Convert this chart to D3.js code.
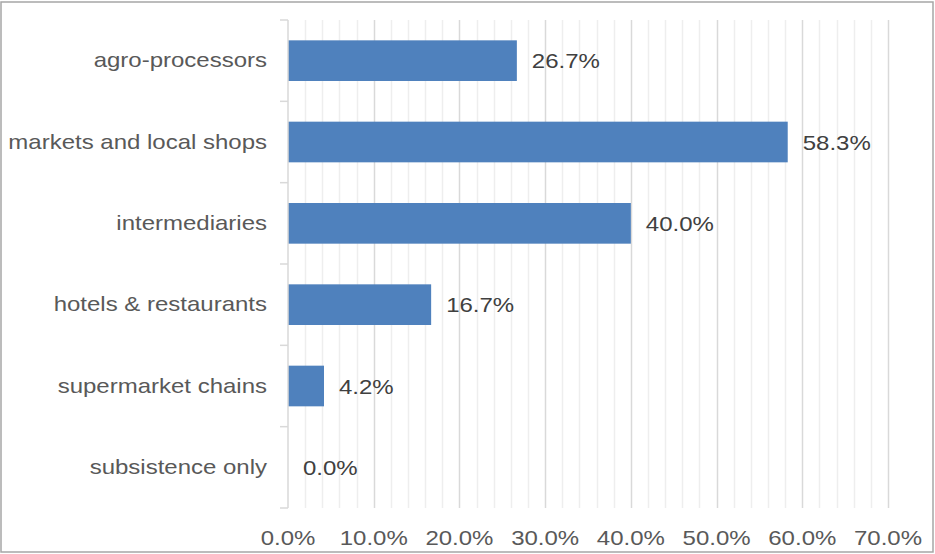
<!DOCTYPE html>
<html>
<head>
<meta charset="utf-8">
<script src="https://cdn.jsdelivr.net/npm/d3@7"></script>
<style>
  html, body { margin: 0; padding: 0; background: #fff; }
  svg { display: block; }
  text { font-family: "Liberation Sans", Arial, sans-serif; }
</style>
</head>
<body>
<svg id="chart" width="935" height="554"></svg>
<script>
// Sales channels and share of respondents using each
const categories = [
  "agro-processors",
  "markets and local shops",
  "intermediaries",
  "hotels & restaurants",
  "supermarket chains",
  "subsistence only"
];
const shares = [26.7, 58.3, 40.0, 16.7, 4.2, 0.0];
const xTicks = [0, 10, 20, 30, 40, 50, 60, 70];
const xMinorTicks = d3.range(0, 70.001, 2);

const W = 935, H = 554;
const margin = { left: 288, right: 47, top: 20, bottom: 46 };
const STRETCH = 1.2; // horizontal text stretch

const svg = d3.select("#chart");

// outer frame
svg.append("rect")
  .attr("x", 1).attr("y", 2)
  .attr("width", 932).attr("height", 550)
  .attr("fill", "#fff")
  .attr("stroke", "#a6a6a6")
  .attr("stroke-width", 1.5);

const x = d3.scaleLinear().domain([0, 70]).range([margin.left, W - margin.right]);
const y = d3.scaleBand().domain(categories)
  .range([margin.top, H - margin.bottom])
  .paddingInner(0.5).paddingOuter(0.25);
const yBounds = d3.scaleBand().domain(categories).range([margin.top, H - margin.bottom]);

// minor gridlines
svg.append("g").selectAll("line")
  .data(xMinorTicks.filter(d => d % 10 !== 0))
  .join("line")
  .attr("x1", d => Math.round(x(d)) + 0.5).attr("x2", d => Math.round(x(d)) + 0.5)
  .attr("y1", margin.top).attr("y2", H - margin.bottom)
  .attr("stroke", "#eeeeee").attr("stroke-width", 1.5);

// major gridlines
svg.append("g").selectAll("line")
  .data(xTicks.filter(d => d > 0))
  .join("line")
  .attr("x1", d => Math.round(x(d)) + 0.5).attr("x2", d => Math.round(x(d)) + 0.5)
  .attr("y1", margin.top).attr("y2", H - margin.bottom)
  .attr("stroke", "#d9d9d9").attr("stroke-width", 1.5);

// bars
svg.append("g").selectAll("rect")
  .data(categories.map((c, i) => ({ c, v: shares[i] })))
  .join("rect")
  .attr("x", x(0))
  .attr("y", d => y(d.c))
  .attr("width", d => x(d.v) - x(0))
  .attr("height", y.bandwidth())
  .attr("fill", "#4f81bd");

// y axis line and ticks
const yAxis = svg.append("g");
yAxis.append("line")
  .attr("x1", x(0)).attr("x2", x(0))
  .attr("y1", margin.top).attr("y2", H - margin.bottom)
  .attr("stroke", "#d9d9d9").attr("stroke-width", 1.5);
const boundaries = categories.map(c => yBounds(c)).concat([H - margin.bottom]);
yAxis.selectAll("line.tick")
  .data(boundaries)
  .join("line").attr("class", "tick")
  .attr("x1", x(0) - 8).attr("x2", x(0))
  .attr("y1", d => d).attr("y2", d => d)
  .attr("stroke", "#d9d9d9").attr("stroke-width", 1.5);

function stretchedText(sel, px, py, anchor) {
  sel.attr("transform", d => `translate(${px(d)},${py(d)}) scale(${STRETCH},1)`)
    .attr("text-anchor", anchor)
    .attr("dominant-baseline", "central")
    .attr("font-size", 20);
}

// category labels
svg.append("g").selectAll("text")
  .data(categories)
  .join("text")
  .call(stretchedText, () => 267, d => y(d) + y.bandwidth() / 2, "end")
  .attr("fill", "#595959")
  .text(d => d);

// value labels
svg.append("g").selectAll("text")
  .data(categories.map((c, i) => ({ c, v: shares[i] })))
  .join("text")
  .call(stretchedText, d => x(d.v) + 15, d => y(d.c) + y.bandwidth() / 2 + 1, "start")
  .attr("fill", "#404040")
  .text(d => d.v.toFixed(1) + "%");

// x tick labels
svg.append("g").selectAll("text")
  .data(xTicks)
  .join("text")
  .call(stretchedText, d => x(d), () => 538, "middle")
  .attr("fill", "#595959")
  .text(d => d.toFixed(1) + "%");
</script>
</body>
</html>
